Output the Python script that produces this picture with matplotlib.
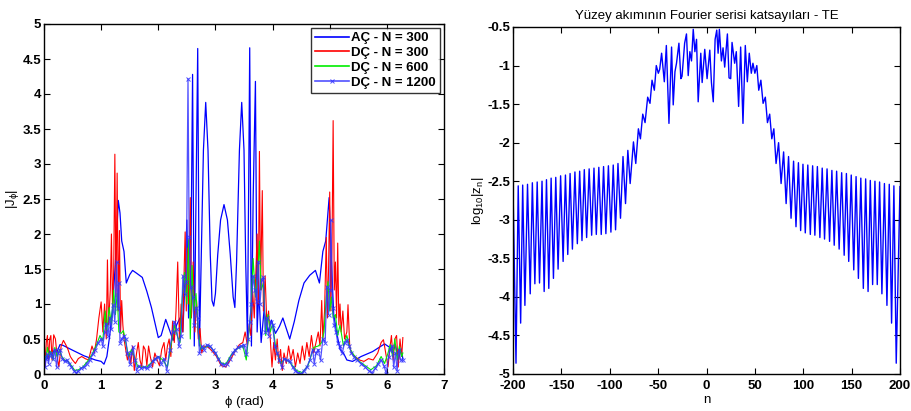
import numpy as np
import matplotlib
matplotlib.use("Agg")
import matplotlib.pyplot as plt

plt.rcParams['font.family'] = ['Liberation Sans Narrow', 'Liberation Sans', 'DejaVu Sans']
plt.rcParams['font.weight'] = 'bold'
plt.rcParams['mathtext.default'] = 'regular'
plt.rcParams['axes.unicode_minus'] = False

# ---------------- sol panel: |J_phi| ----------------
ac300_x = [0.00, 0.03, 0.06, 0.10, 0.14, 0.18, 0.22, 0.28, 0.33, 0.50,
           0.70, 0.90, 1.00, 1.05, 1.10, 1.15, 1.20, 1.25, 1.30, 1.33,
           1.36, 1.40, 1.44, 1.50, 1.55, 1.62, 1.72, 1.80, 1.88, 1.95,
           2.00, 2.05, 2.13, 2.20, 2.26, 2.32, 2.38, 2.43, 2.47, 2.50,
           2.53, 2.57, 2.60, 2.63, 2.66, 2.69, 2.72, 2.75, 2.79, 2.83,
           2.87, 2.91, 2.94, 2.97, 3.00, 3.04, 3.09, 3.15, 3.21, 3.26,
           3.31, 3.34, 3.37, 3.42, 3.46, 3.50, 3.53, 3.56, 3.58, 3.60,
           3.63, 3.66, 3.70, 3.73, 3.76, 3.80, 3.85, 3.92, 3.98, 4.05,
           4.12, 4.18, 4.24, 4.30, 4.38, 4.46, 4.55, 4.65, 4.75, 4.82,
           4.88, 4.93, 4.99, 5.03, 5.07, 5.12, 5.18, 5.24, 5.30, 5.40,
           5.55, 5.75, 5.96, 6.05, 6.10, 6.15, 6.20, 6.25, 6.28]
ac300_y = [0.25, 0.30, 0.22, 0.33, 0.26, 0.35, 0.30, 0.42, 0.41, 0.34,
           0.26, 0.20, 0.18, 0.14, 0.25, 0.55, 0.95, 1.60, 2.48, 2.30,
           1.90, 1.75, 1.30, 1.42, 1.48, 1.44, 1.38, 1.18, 0.95, 0.70,
           0.52, 0.55, 0.78, 0.62, 0.48, 0.70, 0.80, 0.60, 1.40, 2.20,
           0.80, 1.50, 4.28, 0.40, 2.50, 4.65, 0.40, 1.60, 3.20, 3.88,
           3.20, 1.70, 1.05, 0.97, 1.15, 1.70, 2.20, 2.42, 2.20, 1.70,
           1.10, 0.95, 1.60, 3.20, 3.88, 3.20, 1.60, 0.50, 2.50, 4.66,
           0.40, 2.50, 4.18, 0.60, 1.20, 0.45, 0.90, 0.60, 0.77, 0.58,
           0.68, 0.80, 0.65, 0.50, 0.75, 1.05, 1.30, 1.41, 1.48, 1.30,
           1.75, 1.90, 2.52, 1.60, 0.85, 0.60, 0.35, 0.30, 0.20, 0.18,
           0.25, 0.32, 0.43, 0.38, 0.30, 0.42, 0.20, 0.35, 0.22]

dc300_x = [0.00, 0.02, 0.04, 0.06, 0.08, 0.10, 0.12, 0.14, 0.17, 0.20,
           0.23, 0.26, 0.30, 0.34, 0.38, 0.42, 0.46, 0.50, 0.55, 0.60,
           0.66, 0.72, 0.78, 0.84, 0.88, 0.92, 0.96, 1.00, 1.03, 1.06,
           1.09, 1.11, 1.13, 1.16, 1.18, 1.20, 1.22, 1.24, 1.26, 1.28,
           1.30, 1.32, 1.34, 1.36, 1.38, 1.40, 1.43, 1.46, 1.49, 1.52,
           1.55, 1.58, 1.62, 1.65, 1.68, 1.71, 1.74, 1.77, 1.80, 1.83,
           1.86, 1.90, 1.94, 1.98, 2.02, 2.06, 2.10, 2.13, 2.16, 2.19,
           2.22, 2.25, 2.28, 2.31, 2.34, 2.37, 2.40, 2.43, 2.45, 2.47,
           2.49, 2.51, 2.53, 2.56, 2.58, 2.61, 2.64, 2.67, 2.70, 2.73,
           2.76, 2.80, 2.88, 2.95, 3.02, 3.10, 3.18, 3.26, 3.34, 3.42,
           3.48, 3.52, 3.56, 3.59, 3.62, 3.65, 3.68, 3.71, 3.73, 3.75,
           3.77, 3.79, 3.82, 3.84, 3.87, 3.90, 3.93, 3.96, 3.99, 4.02,
           4.05, 4.08, 4.11, 4.14, 4.17, 4.20, 4.24, 4.28, 4.32, 4.36,
           4.40, 4.44, 4.48, 4.52, 4.56, 4.60, 4.64, 4.68, 4.72, 4.76,
           4.80, 4.83, 4.86, 4.88, 4.91, 4.94, 4.96, 4.98, 5.00, 5.02,
           5.04, 5.06, 5.08, 5.10, 5.12, 5.14, 5.16, 5.18, 5.20, 5.23,
           5.26, 5.30, 5.32, 5.35, 5.38, 5.44, 5.52, 5.60, 5.68, 5.76,
           5.84, 5.90, 5.94, 5.98, 6.02, 6.05, 6.08, 6.11, 6.14, 6.17,
           6.20, 6.23, 6.26, 6.28]
dc300_y = [0.62, 0.10, 0.45, 0.55, 0.20, 0.50, 0.55, 0.20, 0.56, 0.50,
           0.25, 0.10, 0.40, 0.48, 0.42, 0.35, 0.25, 0.20, 0.15, 0.22,
           0.25, 0.22, 0.20, 0.40, 0.30, 0.50, 0.80, 1.03, 0.60, 1.00,
           0.50, 1.63, 0.70, 1.20, 2.00, 0.90, 1.50, 3.14, 1.10, 2.87,
           0.90, 2.05, 0.60, 1.05, 0.70, 0.50, 0.35, 0.20, 0.30, 0.15,
           0.40, 0.05, 0.30, 0.45, 0.20, 0.10, 0.40, 0.35, 0.12, 0.40,
           0.25, 0.10, 0.30, 0.20, 0.12, 0.35, 0.45, 0.20, 0.40, 0.50,
           0.25, 0.75, 0.45, 0.90, 1.60, 0.50, 1.00, 0.60, 1.40, 2.03,
           0.90, 1.80, 1.00, 2.52, 0.80, 1.60, 0.60, 1.05, 0.50, 0.65,
           0.30, 0.40, 0.38, 0.32, 0.25, 0.12, 0.10, 0.20, 0.32, 0.42,
           0.45, 0.60, 0.40, 0.70, 0.55, 1.20, 0.80, 1.50, 2.00, 1.00,
           3.18, 1.20, 2.62, 0.90, 1.40, 0.70, 0.90, 0.50, 0.10, 0.45,
           0.20, 0.50, 0.15, 0.35, 0.05, 0.30, 0.15, 0.40, 0.20, 0.35,
           0.10, 0.30, 0.15, 0.40, 0.20, 0.45, 0.25, 0.55, 0.30, 0.45,
           0.60, 0.40, 1.05, 0.50, 0.90, 1.95, 0.80, 1.50, 2.60, 0.90,
           1.80, 3.62, 1.20, 1.60, 0.80, 1.87, 0.70, 1.00, 0.60, 0.90,
           0.50, 0.60, 0.99, 0.40, 0.30, 0.25, 0.20, 0.18, 0.22, 0.20,
           0.30, 0.45, 0.49, 0.30, 0.10, 0.35, 0.55, 0.20, 0.50, 0.55,
           0.10, 0.50, 0.25, 0.52]

dc600_x = [0.00, 0.03, 0.06, 0.09, 0.12, 0.16, 0.19, 0.23, 0.27, 0.31,
           0.36, 0.42, 0.48, 0.54, 0.60, 0.68, 0.76, 0.84, 0.92, 0.98,
           1.03, 1.07, 1.10, 1.14, 1.18, 1.22, 1.25, 1.28, 1.31, 1.35,
           1.39, 1.43, 1.48, 1.53, 1.58, 1.64, 1.72, 1.80, 1.90, 2.00,
           2.08, 2.16, 2.22, 2.28, 2.33, 2.38, 2.42, 2.46, 2.50, 2.53,
           2.56, 2.59, 2.62, 2.66, 2.70, 2.74, 2.80, 2.90, 3.00, 3.10,
           3.18, 3.28, 3.38, 3.48, 3.54, 3.58, 3.62, 3.66, 3.70, 3.74,
           3.77, 3.80, 3.84, 3.88, 3.92, 3.96, 4.00, 4.06, 4.14, 4.22,
           4.32, 4.42, 4.52, 4.62, 4.72, 4.80, 4.86, 4.90, 4.94, 4.97,
           5.00, 5.03, 5.06, 5.10, 5.14, 5.18, 5.24, 5.30, 5.36, 5.44,
           5.52, 5.62, 5.72, 5.82, 5.90, 5.96, 6.02, 6.06, 6.10, 6.14,
           6.18, 6.22, 6.26, 6.28]
dc600_y = [0.30, 0.20, 0.38, 0.25, 0.32, 0.20, 0.38, 0.25, 0.35, 0.25,
           0.20, 0.18, 0.12, 0.05, 0.06, 0.10, 0.18, 0.28, 0.42, 0.55,
           0.48, 0.90, 0.62, 0.95, 0.70, 1.20, 0.85, 1.15, 0.60, 0.58,
           0.62, 0.45, 0.25, 0.35, 0.25, 0.10, 0.10, 0.10, 0.18, 0.25,
           0.20, 0.10, 0.40, 0.70, 0.55, 0.45, 1.10, 1.45, 1.00, 1.92,
           0.50, 1.55, 0.90, 1.15, 0.60, 0.35, 0.38, 0.40, 0.30, 0.16,
           0.14, 0.28, 0.36, 0.40, 0.20, 0.55, 0.90, 1.65, 1.10, 1.40,
           1.90, 1.20, 1.30, 0.55, 0.85, 0.60, 0.72, 0.35, 0.15, 0.22,
           0.15, 0.05, 0.02, 0.12, 0.38, 0.40, 0.45, 0.60, 1.10, 1.32,
           0.90, 1.10, 0.80, 0.85, 0.55, 0.70, 0.40, 0.55, 0.35, 0.25,
           0.18, 0.12, 0.06, 0.12, 0.25, 0.15, 0.30, 0.42, 0.25, 0.50,
           0.20, 0.40, 0.25, 0.30]

dc1200_x = [0.00, 0.02, 0.04, 0.06, 0.08, 0.10, 0.13, 0.16, 0.19, 0.22,
            0.25, 0.28, 0.32, 0.36, 0.40, 0.44, 0.48, 0.52, 0.56, 0.60,
            0.65, 0.70, 0.75, 0.80, 0.85, 0.90, 0.95, 1.00, 1.03, 1.06,
            1.09, 1.12, 1.15, 1.18, 1.21, 1.24, 1.27, 1.29, 1.31, 1.33,
            1.36, 1.40, 1.43, 1.46, 1.50, 1.53, 1.56, 1.59, 1.62, 1.66,
            1.70, 1.75, 1.80, 1.85, 1.90, 1.95, 2.00, 2.05, 2.10, 2.15,
            2.20, 2.25, 2.28, 2.32, 2.36, 2.40, 2.43, 2.46, 2.49, 2.52,
            2.54, 2.57, 2.60, 2.63, 2.66, 2.69, 2.72, 2.76, 2.80, 2.85,
            2.90, 2.95, 3.00, 3.05, 3.10, 3.15, 3.20, 3.25, 3.30, 3.35,
            3.40, 3.45, 3.50, 3.54, 3.57, 3.60, 3.63, 3.66, 3.69, 3.72,
            3.75, 3.78, 3.81, 3.84, 3.87, 3.90, 3.93, 3.97, 4.00, 4.04,
            4.08, 4.12, 4.16, 4.20, 4.25, 4.30, 4.35, 4.40, 4.45, 4.50,
            4.55, 4.60, 4.65, 4.70, 4.73, 4.76, 4.80, 4.84, 4.88, 4.92,
            4.95, 4.98, 5.00, 5.02, 5.05, 5.08, 5.11, 5.14, 5.18, 5.22,
            5.26, 5.30, 5.34, 5.38, 5.42, 5.48, 5.55, 5.62, 5.68, 5.74,
            5.80, 5.85, 5.90, 5.95, 5.99, 6.03, 6.06, 6.09, 6.12, 6.15,
            6.18, 6.21, 6.24, 6.28]
dc1200_y = [0.25, 0.10, 0.22, 0.28, 0.15, 0.26, 0.30, 0.22, 0.35, 0.10,
            0.30, 0.35, 0.22, 0.18, 0.20, 0.15, 0.10, 0.05, 0.02, 0.04,
            0.08, 0.10, 0.15, 0.20, 0.28, 0.35, 0.45, 0.50, 0.40, 0.60,
            0.72, 0.55, 0.80, 0.65, 0.98, 0.75, 1.60, 0.95, 1.30, 0.45,
            0.50, 0.55, 0.50, 0.30, 0.15, 0.30, 0.38, 0.20, 0.05, 0.12,
            0.08, 0.10, 0.08, 0.12, 0.18, 0.22, 0.25, 0.15, 0.22, 0.05,
            0.35, 0.60, 0.75, 0.65, 0.40, 0.55, 1.40, 1.15, 1.32, 4.22,
            1.95, 1.25, 1.10, 0.70, 0.95, 0.80, 0.30, 0.40, 0.35, 0.42,
            0.40, 0.35, 0.30, 0.22, 0.15, 0.13, 0.15, 0.22, 0.30, 0.35,
            0.38, 0.40, 0.42, 0.28, 0.50, 0.75, 1.00, 1.40, 1.20, 1.05,
            1.60, 1.00, 1.35, 1.38, 0.60, 0.80, 0.55, 0.75, 0.70, 0.40,
            0.30, 0.20, 0.10, 0.22, 0.20, 0.18, 0.10, 0.05, 0.02, 0.00,
            0.05, 0.10, 0.20, 0.35, 0.15, 0.30, 0.35, 0.20, 0.50, 0.45,
            1.25, 0.85, 1.20, 2.20, 0.95, 0.70, 0.60, 0.45, 0.40, 0.30,
            0.45, 0.48, 0.40, 0.30, 0.25, 0.20, 0.15, 0.10, 0.05, 0.02,
            0.08, 0.15, 0.20, 0.12, 0.00, 0.25, 0.35, 0.40, 0.10, 0.30,
            0.05, 0.35, 0.20, 0.20]

# ---------------- sag panel: log10|z_n| ----------------
# dis bolge, sol taraf (tepe / cukur)
left_peak_n = [-200, -194.6, -190, -185, -180, -175, -170, -165.4, -160.6, -155.8,
               -150.8, -145.8, -141, -136, -131.1, -126.3, -121.3, -116.3, -111.3, -106.4,
               -101.4, -96.4, -91.5, -86.3, -81.3]
left_peak_v = [-2.57, -2.56, -2.55, -2.54, -2.52, -2.51, -2.50, -2.48, -2.46, -2.45,
               -2.43, -2.42, -2.40, -2.38, -2.37, -2.35, -2.34, -2.33, -2.32, -2.31,
               -2.30, -2.29, -2.27, -2.18, -2.10]
left_dip_n = [-196.9, -192.1, -187.7, -182.2, -177.4, -172.6, -167.8, -163, -158.2, -153.4,
              -148.2, -143.4, -138.6, -133.5, -128.7, -123.9, -118.7, -113.9, -108.8, -104,
              -98.8, -94, -88.9, -83.7, -78.9]
left_dip_v = [-4.86, -4.34, -4.11, -3.96, -3.83, -3.82, -3.93, -3.89, -3.76, -3.64,
              -3.54, -3.45, -3.38, -3.31, -3.27, -3.23, -3.20, -3.19, -3.19, -3.18,
              -3.16, -3.13, -2.98, -2.79, -2.53]
# orta bolge
mid_n = [-75.5, -73.1, -70.4, -68.3, -65.9, -63.5, -60.8, -58.4, -56.3, -53.9,
         -51.9, -49.8, -48.4, -46.4, -43.6, -41.5, -38.8, -36.1, -34.4, -32.6,
         -31.0, -28.5, -26.5, -25.3, -22.6, -20.7, -18.9, -17.2, -15.5, -13.7,
         -12.0, -10.3, -8.6, -5.9, -4.5, -1.8, 0.6, 3.4, 5.1, 7.0,
         8.9, 10.6, 12.0, 13.3, 15.4, 17.1, 18.8, 21.6, 23.3, 25.0,
         26.4, 29.1, 30.8, 33.2, 35.3, 37.7, 40.1, 42.2, 44.2, 46.3,
         48.0, 50.0, 52.0, 54.0, 56.2, 58.5, 60.8, 63.0, 65.3, 67.5,
         69.6, 71.9, 74.5]
mid_v = [-1.99, -2.27, -1.82, -1.95, -1.63, -1.74, -1.41, -1.49, -1.19, -1.32,
         -1.00, -1.10, -1.05, -0.84, -1.21, -0.74, -1.75, -0.76, -1.51, -1.08,
         -0.97, -0.71, -1.17, -1.14, -0.71, -0.59, -1.13, -0.82, -0.94, -0.53,
         -0.82, -0.66, -1.47, -0.84, -1.22, -0.79, -1.17, -0.80, -1.22, -1.47,
         -0.66, -0.54, -0.84, -0.53, -0.94, -0.77, -1.02, -0.59, -1.16, -1.17,
         -0.70, -0.97, -0.82, -1.53, -0.76, -1.75, -0.74, -1.21, -0.84, -1.10,
         -0.97, -1.10, -1.00, -1.32, -1.19, -1.49, -1.41, -1.74, -1.63, -1.95,
         -1.82, -2.27, -2.00]
# dis bolge, sag taraf
right_dip_n = [77.1, 82.3, 87.4, 92.5, 97.3, 102.1, 107.3, 112, 117.2, 122,
               127.2, 132, 137.1, 142.3, 147, 152.2, 157, 162.1, 167, 171.7,
               176.5, 181.3, 186.5, 191.3, 196.1]
right_dip_v = [-2.53, -2.79, -2.98, -3.09, -3.14, -3.17, -3.19, -3.20, -3.23, -3.25,
               -3.28, -3.33, -3.38, -3.46, -3.54, -3.65, -3.76, -3.89, -3.93, -3.84,
               -3.84, -3.96, -4.11, -4.34, -4.86]
right_peak_n = [79.7, 84.8, 90, 95, 99.7, 104.7, 109.7, 114.6, 119.6, 124.6,
                129.6, 134.5, 139.7, 144.6, 149.6, 154.6, 159.5, 164.5, 169.3, 174.1,
                178.9, 183.9, 188.9, 193.7, 200]
right_peak_v = [-2.12, -2.18, -2.24, -2.26, -2.28, -2.29, -2.30, -2.31, -2.33, -2.34,
                -2.36, -2.37, -2.39, -2.40, -2.42, -2.44, -2.46, -2.47, -2.49, -2.50,
                -2.51, -2.53, -2.54, -2.56, -2.57]

n_all = np.concatenate([left_peak_n, left_dip_n, mid_n, right_dip_n, right_peak_n])
v_all = np.concatenate([left_peak_v, left_dip_v, mid_v, right_dip_v, right_peak_v])
order = np.argsort(n_all)
n_all = n_all[order]
v_all = v_all[order]

FS = 9.5

fig = plt.figure(figsize=(9.12, 4.11), dpi=100)

def matlab_axes(ax):
    ax.tick_params(direction='in', top=True, right=True, length=4, width=0.8,
                   labelsize=FS, pad=2)
    ax.tick_params(axis='x', pad=4)
    for s in ax.spines.values():
        s.set_linewidth(1.0)
        s.set_color('black')

# sol grafik
ax1 = fig.add_axes([44/912, 37/411, 400/912, 350/411])
ax1.plot(ac300_x, ac300_y, color='#0000ff', lw=0.9, label='AÇ - N = 300')
ax1.plot(dc300_x, dc300_y, color='#ff0000', lw=0.8, label='DÇ - N = 300')
ax1.plot(dc600_x, dc600_y, color='#00ee00', lw=0.8, label='DÇ - N = 600')
ax1.plot(dc1200_x, dc1200_y, color='#3333ff', lw=0.9, marker='x', ms=2.5, mew=0.7,
         alpha=0.85, label='DÇ - N = 1200')
ax1.set_xlim(0, 7)
ax1.set_ylim(0, 5)
ax1.set_xticks(np.arange(0, 8, 1))
ax1.set_yticks(np.arange(0, 5.01, 0.5))
ax1.set_yticklabels(['0', '0.5', '1', '1.5', '2', '2.5', '3', '3.5', '4', '4.5', '5'])
ax1.set_xlabel('ϕ (rad)', fontsize=FS, labelpad=3)
ax1.set_ylabel('|J$_\\phi$|', fontsize=FS, labelpad=1)
matlab_axes(ax1)
leg = ax1.legend(loc='upper right', fontsize=FS, frameon=True, fancybox=False,
                 borderaxespad=0.3, handlelength=2.6, labelspacing=0.2,
                 handletextpad=0.2, borderpad=0.3)
leg.get_frame().set_edgecolor('black')
leg.get_frame().set_linewidth(1.0)
for h in leg.get_lines():
    h.set_linewidth(1.2)

# sag grafik
ax2 = fig.add_axes([513/912, 37/411, 387/912, 347/411])
ax2.plot(n_all, v_all, color='#0000ff', lw=1.0)
ax2.set_xlim(-200, 200)
ax2.set_ylim(-5, -0.5)
ax2.set_xticks(np.arange(-200, 201, 50))
ax2.set_yticks(np.arange(-5, -0.49, 0.5))
ax2.set_yticklabels(['-5', '-4.5', '-4', '-3.5', '-3', '-2.5', '-2', '-1.5', '-1', '-0.5'])
ax2.set_xlabel('n', fontsize=FS, labelpad=2)
ax2.set_ylabel('log$_{10}$|z$_n$|', fontsize=FS, labelpad=1)
ax2.set_title('Yüzey akımının Fourier serisi katsayıları - TE', fontsize=FS, pad=6)
matlab_axes(ax2)

fig.savefig('out.png', dpi=100)
